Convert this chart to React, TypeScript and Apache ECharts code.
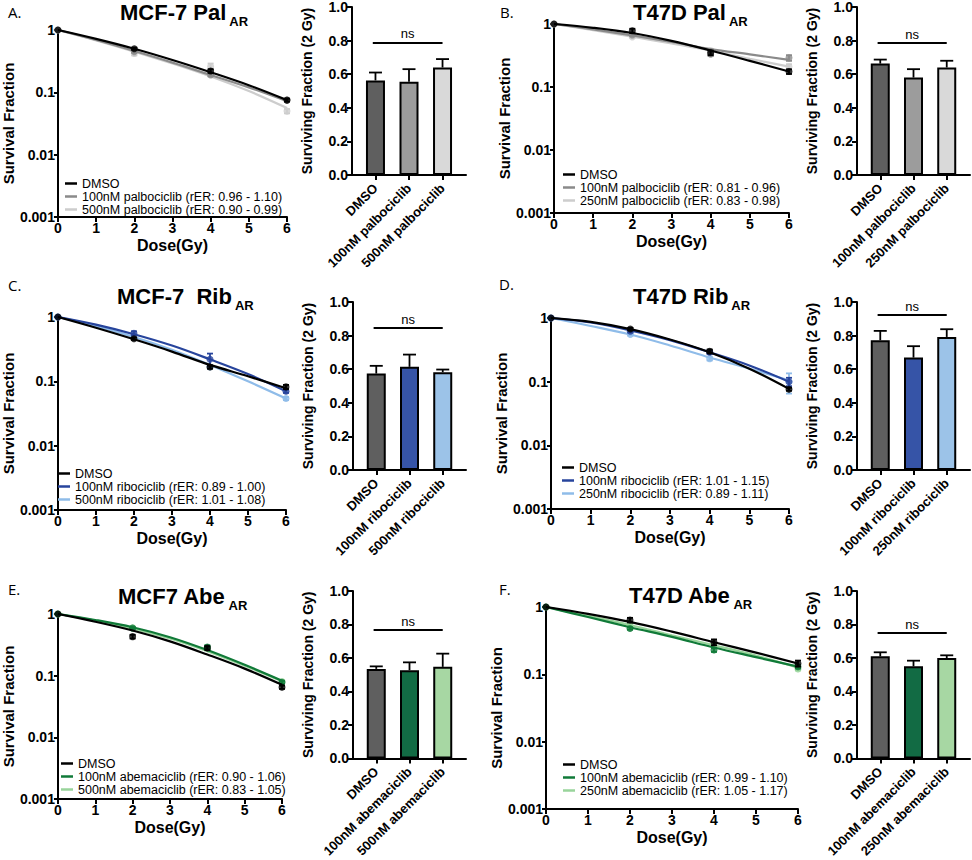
import React, { useEffect, useRef } from "react";
import * as echarts from "echarts";

const FONT = "'Liberation Sans', Arial, Helvetica, sans-serif";
const LETTER_FONT = "'Open Sans', 'Noto Sans', sans-serif";

const DOSES = [0, 2, 4, 6];
const CURVE_DOSES = [0, 1, 2, 3, 4, 5, 6];
const BAR_POS = [0, 1, 2];

// ---------- Panel A: MCF-7 Pal_AR ----------
const A_LEGEND = ["DMSO", "100nM palbociclib (rER: 0.96 - 1.10)", "500nM palbociclib (rER: 0.90 - 0.99)"];
const A_POINTS = [[1, 0.5, 0.22, 0.075], [1, 0.45, 0.19, 0.075], [1, 0.42, 0.26, 0.05]];
const A_ERRS = [[0, 0.02, 0.015, 0.004], [0, 0.02, 0.01, 0.004], [0, 0.03, 0.03, 0.004]];
const A_CURVES = [
  [1, 0.72, 0.5, 0.33, 0.21, 0.13, 0.075],
  [1, 0.69, 0.46, 0.3, 0.19, 0.12, 0.072],
  [1, 0.68, 0.45, 0.29, 0.18, 0.105, 0.056],
];
const A_BAR_CATS = ["DMSO", "100nM palbociclib", "500nM palbociclib"];
const A_BAR_VALS = [0.563, 0.555, 0.64];
const A_BAR_ERRS = [0.047, 0.075, 0.05];
const A_NS = 0.79;

// ---------- Panel B: T47D Pal_AR ----------
const B_LEGEND = ["DMSO", "100nM palbociclib (rER: 0.81 - 0.96)", "250nM palbociclib (rER: 0.83 - 0.98)"];
const B_POINTS = [[1, 0.78, 0.35, 0.176], [1, 0.67, 0.33, 0.29], [1, 0.62, 0.38, 0.21]];
const B_ERRS = [[0, 0.06, 0.03, 0.015], [0, 0.03, 0.02, 0.03], [0, 0.02, 0.02, 0.02]];
const B_CURVES = [
  [1, 0.87, 0.72, 0.54, 0.38, 0.26, 0.176],
  [1, 0.82, 0.66, 0.52, 0.4, 0.33, 0.27],
  [1, 0.8, 0.63, 0.49, 0.38, 0.28, 0.21],
];
const B_BAR_CATS = ["DMSO", "100nM palbociclib", "250nM palbociclib"];
const B_BAR_VALS = [0.663, 0.58, 0.64];
const B_BAR_ERRS = [0.024, 0.05, 0.04];
const B_NS = 0.786;

// ---------- Panel C: MCF-7 Rib_AR ----------
const C_LEGEND = ["DMSO", "100nM ribociclib (rER: 0.89 - 1.00)", "500nM ribociclib (rER: 1.01 - 1.08)"];
const C_POINTS = [[1, 0.46, 0.167, 0.082], [1, 0.56, 0.22, 0.07], [1, 0.51, 0.167, 0.054]];
const C_ERRS = [[0, 0.02, 0.01, 0.006], [0, 0.04, 0.05, 0.004], [0, 0.02, 0.01, 0.003]];
const C_CURVES = [
  [1, 0.68, 0.45, 0.29, 0.18, 0.12, 0.078],
  [1, 0.76, 0.54, 0.36, 0.22, 0.13, 0.07],
  [1, 0.72, 0.49, 0.31, 0.18, 0.1, 0.054],
];
const C_BAR_CATS = ["DMSO", "100nM ribociclib", "500nM ribociclib"];
const C_BAR_VALS = [0.574, 0.614, 0.582];
const C_BAR_ERRS = [0.046, 0.073, 0.016];
const C_NS = 0.845;

// ---------- Panel D: T47D Rib_AR ----------
const D_LEGEND = ["DMSO", "100nM ribociclib (rER: 1.01 - 1.15)", "250nM ribociclib (rER: 0.89 - 1.11)"];
const D_POINTS = [[1, 0.67, 0.3, 0.076], [1, 0.62, 0.29, 0.1], [1, 0.55, 0.23, 0.1]];
const D_ERRS = [[0, 0.03, 0.02, 0.004], [0, 0.03, 0.02, 0.015], [0, 0.02, 0.015, 0.035]];
const D_CURVES = [
  [1, 0.87, 0.67, 0.46, 0.29, 0.16, 0.077],
  [1, 0.85, 0.64, 0.45, 0.29, 0.18, 0.1],
  [1, 0.75, 0.55, 0.37, 0.24, 0.16, 0.105],
];
const D_BAR_CATS = ["DMSO", "100nM ribociclib", "250nM ribociclib"];
const D_BAR_VALS = [0.772, 0.669, 0.792];
const D_BAR_ERRS = [0.056, 0.068, 0.046];
const D_NS = 0.925;

// ---------- Panel E: MCF7 Abe_AR ----------
const E_LEGEND = ["DMSO", "100nM abemaciclib (rER: 0.90 - 1.06)", "500nM abemaciclib (rER: 0.83 - 1.05)"];
const E_POINTS = [[1, 0.43, 0.28, 0.065], [1, 0.59, 0.29, 0.078], [1, 0.6, 0.28, 0.08]];
const E_ERRS = [[0, 0.03, 0.02, 0.004], [0, 0.02, 0.02, 0.004], [0, 0.02, 0.015, 0.004]];
const E_CURVES = [
  [1, 0.75, 0.54, 0.36, 0.22, 0.13, 0.071],
  [1, 0.8, 0.61, 0.42, 0.26, 0.15, 0.083],
  [1, 0.78, 0.58, 0.4, 0.25, 0.145, 0.081],
];
const E_BAR_CATS = ["DMSO", "100nM abemaciclib", "500nM abemaciclib"];
const E_BAR_VALS = [0.535, 0.527, 0.547];
const E_BAR_ERRS = [0.015, 0.047, 0.079];
const E_NS = 0.768;

// ---------- Panel F: T47D Abe_AR ----------
const F_LEGEND = ["DMSO", "100nM abemaciclib (rER: 0.99 - 1.10)", "250nM abemaciclib (rER: 1.05 - 1.17)"];
const F_POINTS = [[1, 0.64, 0.3, 0.145], [1, 0.48, 0.23, 0.13], [1, 0.57, 0.27, 0.12]];
const F_ERRS = [[0, 0.05, 0.03, 0.015], [0, 0.02, 0.015, 0.008], [0, 0.02, 0.01, 0.006]];
const F_CURVES = [
  [1, 0.79, 0.6, 0.43, 0.3, 0.21, 0.145],
  [1, 0.71, 0.5, 0.36, 0.25, 0.18, 0.13],
  [1, 0.74, 0.54, 0.38, 0.27, 0.19, 0.125],
];
const F_BAR_CATS = ["DMSO", "100nM abemaciclib", "250nM abemaciclib"];
const F_BAR_VALS = [0.61, 0.55, 0.6];
const F_BAR_ERRS = [0.024, 0.034, 0.016];
const F_NS = 0.749;

// ---------- colours ----------
const PAL_LINE = ["#000000", "#8a8a8a", "#cdcdcd"];
const PAL_BAR = ["#5f5f5f", "#9c9c9c", "#d9d9d9"];
const RIB_LINE = ["#000000", "#27449c", "#8fbce9"];
const RIB_BAR = ["#5f5f5f", "#3654a7", "#9cc3e8"];
const ABE_LINE = ["#000000", "#107a38", "#99d49b"];
const ABE_BAR = ["#5f5f5f", "#126b44", "#a7d7a3"];

const PANELS = [
  { letter: "A.", title: "MCF-7 Pal", legend: A_LEGEND, points: A_POINTS, errs: A_ERRS, curves: A_CURVES, cats: A_BAR_CATS, vals: A_BAR_VALS, bErrs: A_BAR_ERRS, ns: A_NS, lc: PAL_LINE, bc: PAL_BAR },
  { letter: "B.", title: "T47D Pal", legend: B_LEGEND, points: B_POINTS, errs: B_ERRS, curves: B_CURVES, cats: B_BAR_CATS, vals: B_BAR_VALS, bErrs: B_BAR_ERRS, ns: B_NS, lc: PAL_LINE, bc: PAL_BAR },
  { letter: "C.", title: "MCF-7  Rib", legend: C_LEGEND, points: C_POINTS, errs: C_ERRS, curves: C_CURVES, cats: C_BAR_CATS, vals: C_BAR_VALS, bErrs: C_BAR_ERRS, ns: C_NS, lc: RIB_LINE, bc: RIB_BAR },
  { letter: "D.", title: "T47D Rib", legend: D_LEGEND, points: D_POINTS, errs: D_ERRS, curves: D_CURVES, cats: D_BAR_CATS, vals: D_BAR_VALS, bErrs: D_BAR_ERRS, ns: D_NS, lc: RIB_LINE, bc: RIB_BAR },
  { letter: "E.", title: "MCF7 Abe", legend: E_LEGEND, points: E_POINTS, errs: E_ERRS, curves: E_CURVES, cats: E_BAR_CATS, vals: E_BAR_VALS, bErrs: E_BAR_ERRS, ns: E_NS, lc: ABE_LINE, bc: ABE_BAR },
  { letter: "F.", title: "T47D Abe", legend: F_LEGEND, points: F_POINTS, errs: F_ERRS, curves: F_CURVES, cats: F_BAR_CATS, vals: F_BAR_VALS, bErrs: F_BAR_ERRS, ns: F_NS, lc: ABE_LINE, bc: ABE_BAR },
];

// layout (pixels): survival grid [left, top, width, height], bar grid, title, legend, letter
const LAYOUT = [
  { surv: [53, 30, 234, 187], bar: [352, 7, 114, 168], title: [120, 10], legend: [65, 177], letter: [8, 12] },
  { surv: [554, 24, 235, 189], bar: [857, 7, 113, 168], title: [633, 10], legend: [563, 168], letter: [500, 12] },
  { surv: [49, 317, 237, 193], bar: [353, 302, 113, 168], title: [117, 294], legend: [58, 467], letter: [8, 285] },
  { surv: [551, 318, 238, 191], bar: [857, 302, 113, 168], title: [633, 294], legend: [562, 461], letter: [499, 284] },
  { surv: [51, 614, 231, 185], bar: [353, 591, 113, 168], title: [118, 594], legend: [61, 757], letter: [8, 589] },
  { surv: [546, 607, 252, 202], bar: [857, 591, 113, 168], title: [629, 593], legend: [563, 758], letter: [499, 589] },
];

const AX_LINE = { show: true, onZero: false, lineStyle: { color: "#000", width: 2 } };
const AX_TICK = { show: true, length: 5, lineStyle: { color: "#000", width: 2 } };

function errSeries(axisIndex: number, data: number[][], color: string, capW: number, both: boolean, z: number) {
  return {
    type: "custom",
    xAxisIndex: axisIndex,
    yAxisIndex: axisIndex,
    data,
    z,
    silent: true,
    encode: { x: 0, y: [1, 2] },
    renderItem: (_p: any, api: any) => {
      const x = api.value(0);
      const lo = api.value(1);
      const hi = api.value(2);
      const a = api.coord([x, lo]);
      const b = api.coord([x, hi]);
      const st = { stroke: color, lineWidth: 1.8 };
      const children: any[] = [
        { type: "line", shape: { x1: a[0], y1: a[1], x2: b[0], y2: b[1] }, style: st },
        { type: "line", shape: { x1: b[0] - capW / 2, y1: b[1], x2: b[0] + capW / 2, y2: b[1] }, style: st },
      ];
      if (both) {
        children.push({ type: "line", shape: { x1: a[0] - capW / 2, y1: a[1], x2: a[0] + capW / 2, y2: a[1] }, style: st });
      }
      return { type: "group", children };
    },
  };
}

function buildOption() {
  const grid: any[] = [];
  const xAxis: any[] = [];
  const yAxis: any[] = [];
  const series: any[] = [];
  const legend: any[] = [];
  const graphic: any[] = [];

  PANELS.forEach((p, i) => {
    const L = LAYOUT[i];
    const si = 2 * i;
    const bi = 2 * i + 1;
    grid.push({ left: L.surv[0], top: L.surv[1], width: L.surv[2], height: L.surv[3], containLabel: false });
    grid.push({ left: L.bar[0], top: L.bar[1], width: L.bar[2], height: L.bar[3], containLabel: false });

    // survival axes
    xAxis.push({
      gridIndex: si, type: "value", min: 0, max: 6, interval: 1,
      axisLine: AX_LINE, axisTick: AX_TICK, splitLine: { show: false },
      axisLabel: { color: "#000", fontFamily: FONT, fontWeight: "bold", fontSize: 14, margin: 4 },
      name: "Dose(Gy)", nameLocation: "middle", nameGap: 20,
      nameTextStyle: { color: "#000", fontFamily: FONT, fontWeight: "bold", fontSize: 16 },
    });
    yAxis.push({
      gridIndex: si, type: "log", logBase: 10, min: 0.001, max: 1,
      axisLine: AX_LINE, axisTick: { ...AX_TICK, length: 4 }, splitLine: { show: false }, minorTick: { show: false },
      axisLabel: {
        color: "#000", fontFamily: FONT, fontWeight: "bold", fontSize: 14, margin: 3,
        formatter: (v: number) => String(parseFloat(Number(v).toPrecision(3))),
      },
      name: "Survival Fraction", nameLocation: "middle", nameGap: 40, nameRotate: 90,
      nameTextStyle: { color: "#000", fontFamily: FONT, fontWeight: "bold", fontSize: 15 },
    });

    // bar axes
    xAxis.push({
      gridIndex: bi, type: "value", min: -0.7, max: 2.7,
      axisLine: AX_LINE,
      axisTick: { ...AX_TICK, customValues: BAR_POS },
      splitLine: { show: false },
      axisLabel: {
        customValues: BAR_POS, rotate: 45, margin: 11,
        color: "#000", fontFamily: FONT, fontWeight: "bold", fontSize: 13,
        formatter: (v: number) => p.cats[Math.round(v)] ?? "",
      },
    });
    yAxis.push({
      gridIndex: bi, type: "value", min: 0, max: 1, interval: 0.2,
      axisLine: AX_LINE, axisTick: AX_TICK, splitLine: { show: false },
      axisLabel: {
        color: "#000", fontFamily: FONT, fontWeight: "bold", fontSize: 14, margin: 4,
        formatter: (v: number) => v.toFixed(1),
      },
      name: "Surviving Fraction (2 Gy)", nameLocation: "middle", nameGap: 38, nameRotate: 90,
      nameTextStyle: { color: "#000", fontFamily: FONT, fontWeight: "bold", fontSize: 14 },
    });

    // survival series (draw treatments first so DMSO ends on top)
    [2, 1, 0].forEach((k) => {
      const color = p.lc[k];
      const z = 3 + (2 - k);
      series.push({
        type: "line", name: p.legend[k], xAxisIndex: si, yAxisIndex: si,
        data: CURVE_DOSES.map((d, j) => [d, p.curves[k][j]]),
        smooth: 0.35, showSymbol: false, silent: true, z,
        lineStyle: { color, width: 2.2 }, itemStyle: { color },
      });
      series.push({
        type: "scatter", name: p.legend[k], xAxisIndex: si, yAxisIndex: si,
        data: DOSES.map((d, j) => [d, p.points[k][j]]),
        symbol: "circle", symbolSize: 7, silent: true, z,
        itemStyle: { color },
      });
      const ed = DOSES.map((d, j) => [d, p.points[k][j] - p.errs[k][j], p.points[k][j] + p.errs[k][j]])
        .filter((_r, j) => p.errs[k][j] > 0);
      series.push(errSeries(si, ed, color, 6, true, z));
    });

    // bars with "ns" bracket as a markLine
    series.push({
      type: "bar", xAxisIndex: bi, yAxisIndex: bi, barWidth: 19, silent: true, z: 2,
      data: BAR_POS.map((x, j) => ({ value: [x, p.vals[j]], itemStyle: { color: p.bc[j] } })),
      itemStyle: { borderColor: "#000", borderWidth: 2 },
      markLine: {
        silent: true, symbol: "none", animation: false,
        lineStyle: { color: "#000", width: 2, type: "solid" },
        label: { show: true, position: "insideMiddleTop", formatter: "ns", color: "#000", fontFamily: FONT, fontSize: 13, distance: 2 },
        emphasis: { disabled: true },
        data: [[{ coord: [-0.08, p.ns] }, { coord: [2, p.ns] }]],
      },
    });
    series.push(errSeries(bi, BAR_POS.map((x, j) => [x, p.vals[j], p.vals[j] + p.bErrs[j]]), "#000", 13, false, 1));

    legend.push({
      data: p.legend, orient: "vertical", left: L.legend[0], top: L.legend[1],
      icon: "rect", itemWidth: 12, itemHeight: 2.5, itemGap: 0, padding: 0, selectedMode: false,
      textStyle: { color: "#000", fontFamily: FONT, fontSize: 12.5, lineHeight: 12.5 },
    });

    graphic.push({
      type: "text", x: L.title[0], y: L.title[1] - 9, silent: true,
      style: {
        text: `{m|${p.title}}{s|AR}`,
        textAlign: "left", textVerticalAlign: "top", align: "left", verticalAlign: "top",
        fill: "#000",
        rich: {
          m: { fontFamily: FONT, fontWeight: "bold", fontSize: 22, lineHeight: 18, verticalAlign: "top", fill: "#000", color: "#000" },
          s: { fontFamily: FONT, fontWeight: "bold", fontSize: 13, lineHeight: 41, verticalAlign: "middle", padding: [0, 0, 0, 3], fill: "#000", color: "#000" },
        },
      },
    });
    graphic.push({
      type: "text", x: L.letter[0], y: L.letter[1], silent: true,
      style: { text: p.letter, fill: "#000", font: `15px ${LETTER_FONT}`, textAlign: "left", textVerticalAlign: "middle", align: "left", verticalAlign: "middle" },
    });
  });

  return { animation: false, backgroundColor: "#fff", grid, xAxis, yAxis, series, legend, graphic };
}

export default function App() {
  const ref = useRef<HTMLDivElement>(null);
  useEffect(() => {
    if (!ref.current) return;
    const chart = echarts.init(ref.current, null, { renderer: "svg" });
    chart.setOption(buildOption() as any);
    return () => chart.dispose();
  }, []);
  return (
    <div
      ref={ref}
      style={{ position: "absolute", left: 0, top: 0, width: 972, height: 860, background: "#fff" }}
    />
  );
}
